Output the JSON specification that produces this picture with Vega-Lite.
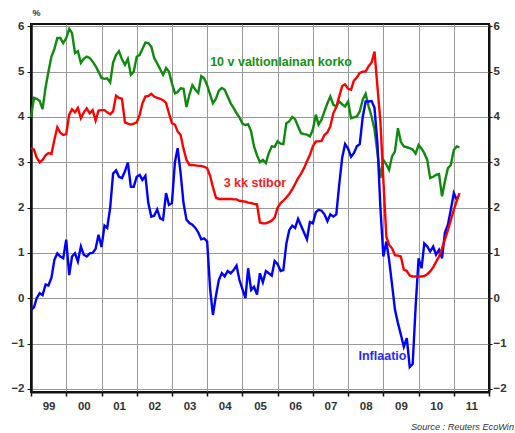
{
  "$schema": "https://vega.github.io/schema/vega-lite/v6.json",
  "width": 458,
  "height": 368,
  "autosize": "none",
  "padding": {"left": 31, "top": 24, "right": 26, "bottom": 41},
  "background": "white",
  "config": {
    "view": {"stroke": "#111111", "strokeWidth": 2},
    "font": "Liberation Sans"
  },
  "title": {
    "text": "Source : Reuters EcoWin",
    "orient": "bottom",
    "anchor": "end",
    "frame": "group",
    "font": "Liberation Sans",
    "fontSize": 9.2,
    "fontStyle": "italic",
    "fontWeight": "normal",
    "color": "#333333",
    "offset": 11,
    "dx": 25
  },
  "datasets": {
    "rates": [
      {"date": "1999-01-01", "korko": 4.00, "stibor": 3.31, "inflaatio": -0.26},
      {"date": "1999-02-01", "korko": 4.42, "stibor": 3.28, "inflaatio": -0.20},
      {"date": "1999-03-01", "korko": 4.40, "stibor": 3.10, "inflaatio": 0.00},
      {"date": "1999-04-01", "korko": 4.35, "stibor": 3.00, "inflaatio": 0.11},
      {"date": "1999-05-01", "korko": 4.17, "stibor": 3.05, "inflaatio": 0.07},
      {"date": "1999-06-01", "korko": 4.65, "stibor": 3.15, "inflaatio": 0.30},
      {"date": "1999-07-01", "korko": 5.00, "stibor": 3.20, "inflaatio": 0.28},
      {"date": "1999-08-01", "korko": 5.33, "stibor": 3.18, "inflaatio": 0.45},
      {"date": "1999-09-01", "korko": 5.50, "stibor": 3.50, "inflaatio": 0.85},
      {"date": "1999-10-01", "korko": 5.74, "stibor": 3.77, "inflaatio": 0.99},
      {"date": "1999-11-01", "korko": 5.74, "stibor": 3.65, "inflaatio": 0.92},
      {"date": "1999-12-01", "korko": 5.63, "stibor": 3.60, "inflaatio": 0.88},
      {"date": "2000-01-01", "korko": 5.74, "stibor": 3.62, "inflaatio": 1.29},
      {"date": "2000-02-01", "korko": 5.94, "stibor": 4.05, "inflaatio": 0.51},
      {"date": "2000-03-01", "korko": 5.85, "stibor": 4.17, "inflaatio": 0.92},
      {"date": "2000-04-01", "korko": 5.41, "stibor": 4.10, "inflaatio": 0.99},
      {"date": "2000-05-01", "korko": 5.45, "stibor": 4.20, "inflaatio": 0.81},
      {"date": "2000-06-01", "korko": 5.19, "stibor": 3.97, "inflaatio": 1.14},
      {"date": "2000-07-01", "korko": 5.28, "stibor": 4.10, "inflaatio": 0.96},
      {"date": "2000-08-01", "korko": 5.33, "stibor": 4.19, "inflaatio": 0.92},
      {"date": "2000-09-01", "korko": 5.30, "stibor": 4.08, "inflaatio": 0.99},
      {"date": "2000-10-01", "korko": 5.22, "stibor": 4.15, "inflaatio": 1.00},
      {"date": "2000-11-01", "korko": 5.12, "stibor": 3.92, "inflaatio": 1.09},
      {"date": "2000-12-01", "korko": 5.00, "stibor": 4.14, "inflaatio": 1.40},
      {"date": "2001-01-01", "korko": 4.86, "stibor": 4.15, "inflaatio": 1.13},
      {"date": "2001-02-01", "korko": 4.84, "stibor": 4.15, "inflaatio": 1.60},
      {"date": "2001-03-01", "korko": 4.85, "stibor": 4.10, "inflaatio": 1.55},
      {"date": "2001-04-01", "korko": 4.76, "stibor": 4.06, "inflaatio": 2.00},
      {"date": "2001-05-01", "korko": 5.20, "stibor": 4.12, "inflaatio": 2.75},
      {"date": "2001-06-01", "korko": 5.37, "stibor": 4.47, "inflaatio": 2.82},
      {"date": "2001-07-01", "korko": 5.45, "stibor": 4.42, "inflaatio": 2.68},
      {"date": "2001-08-01", "korko": 5.27, "stibor": 4.40, "inflaatio": 2.65},
      {"date": "2001-09-01", "korko": 5.15, "stibor": 3.88, "inflaatio": 2.80},
      {"date": "2001-10-01", "korko": 5.28, "stibor": 3.85, "inflaatio": 2.99},
      {"date": "2001-11-01", "korko": 4.93, "stibor": 3.83, "inflaatio": 2.46},
      {"date": "2001-12-01", "korko": 5.00, "stibor": 3.85, "inflaatio": 2.46},
      {"date": "2002-01-01", "korko": 5.33, "stibor": 3.88, "inflaatio": 2.68},
      {"date": "2002-02-01", "korko": 5.37, "stibor": 4.05, "inflaatio": 2.72},
      {"date": "2002-03-01", "korko": 5.50, "stibor": 4.30, "inflaatio": 2.61},
      {"date": "2002-04-01", "korko": 5.64, "stibor": 4.45, "inflaatio": 2.70},
      {"date": "2002-05-01", "korko": 5.63, "stibor": 4.46, "inflaatio": 2.10},
      {"date": "2002-06-01", "korko": 5.55, "stibor": 4.51, "inflaatio": 1.80},
      {"date": "2002-07-01", "korko": 5.30, "stibor": 4.45, "inflaatio": 1.82},
      {"date": "2002-08-01", "korko": 5.18, "stibor": 4.42, "inflaatio": 1.96},
      {"date": "2002-09-01", "korko": 5.05, "stibor": 4.40, "inflaatio": 1.76},
      {"date": "2002-10-01", "korko": 4.93, "stibor": 4.37, "inflaatio": 1.73},
      {"date": "2002-11-01", "korko": 5.08, "stibor": 4.31, "inflaatio": 2.32},
      {"date": "2002-12-01", "korko": 5.00, "stibor": 4.08, "inflaatio": 2.06},
      {"date": "2003-01-01", "korko": 4.74, "stibor": 3.86, "inflaatio": 2.10},
      {"date": "2003-02-01", "korko": 4.52, "stibor": 3.83, "inflaatio": 3.00},
      {"date": "2003-03-01", "korko": 4.55, "stibor": 3.68, "inflaatio": 3.31},
      {"date": "2003-04-01", "korko": 4.63, "stibor": 3.60, "inflaatio": 2.76},
      {"date": "2003-05-01", "korko": 4.62, "stibor": 3.30, "inflaatio": 2.10},
      {"date": "2003-06-01", "korko": 4.22, "stibor": 3.05, "inflaatio": 1.73},
      {"date": "2003-07-01", "korko": 4.49, "stibor": 2.94, "inflaatio": 1.66},
      {"date": "2003-08-01", "korko": 4.70, "stibor": 2.94, "inflaatio": 1.62},
      {"date": "2003-09-01", "korko": 4.60, "stibor": 2.93, "inflaatio": 1.55},
      {"date": "2003-10-01", "korko": 4.53, "stibor": 2.92, "inflaatio": 1.45},
      {"date": "2003-11-01", "korko": 4.90, "stibor": 2.92, "inflaatio": 1.30},
      {"date": "2003-12-01", "korko": 4.85, "stibor": 2.90, "inflaatio": 1.32},
      {"date": "2004-01-01", "korko": 4.70, "stibor": 2.87, "inflaatio": 1.25},
      {"date": "2004-02-01", "korko": 4.49, "stibor": 2.70, "inflaatio": 0.20},
      {"date": "2004-03-01", "korko": 4.30, "stibor": 2.45, "inflaatio": -0.37},
      {"date": "2004-04-01", "korko": 4.40, "stibor": 2.22, "inflaatio": 0.05},
      {"date": "2004-05-01", "korko": 4.58, "stibor": 2.19, "inflaatio": 0.40},
      {"date": "2004-06-01", "korko": 4.64, "stibor": 2.19, "inflaatio": 0.55},
      {"date": "2004-07-01", "korko": 4.60, "stibor": 2.19, "inflaatio": 0.48},
      {"date": "2004-08-01", "korko": 4.45, "stibor": 2.19, "inflaatio": 0.60},
      {"date": "2004-09-01", "korko": 4.30, "stibor": 2.19, "inflaatio": 0.55},
      {"date": "2004-10-01", "korko": 4.20, "stibor": 2.18, "inflaatio": 0.62},
      {"date": "2004-11-01", "korko": 4.08, "stibor": 2.18, "inflaatio": 0.72},
      {"date": "2004-12-01", "korko": 3.99, "stibor": 2.15, "inflaatio": 0.40},
      {"date": "2005-01-01", "korko": 3.85, "stibor": 2.14, "inflaatio": 0.20},
      {"date": "2005-02-01", "korko": 3.82, "stibor": 2.13, "inflaatio": 0.00},
      {"date": "2005-03-01", "korko": 3.84, "stibor": 2.11, "inflaatio": 0.66},
      {"date": "2005-04-01", "korko": 3.68, "stibor": 2.10, "inflaatio": 0.18},
      {"date": "2005-05-01", "korko": 3.35, "stibor": 2.08, "inflaatio": 0.25},
      {"date": "2005-06-01", "korko": 3.15, "stibor": 2.07, "inflaatio": 0.08},
      {"date": "2005-07-01", "korko": 3.00, "stibor": 1.67, "inflaatio": 0.55},
      {"date": "2005-08-01", "korko": 3.05, "stibor": 1.65, "inflaatio": 0.35},
      {"date": "2005-09-01", "korko": 2.98, "stibor": 1.65, "inflaatio": 0.60},
      {"date": "2005-10-01", "korko": 3.20, "stibor": 1.68, "inflaatio": 0.55},
      {"date": "2005-11-01", "korko": 3.35, "stibor": 1.71, "inflaatio": 0.50},
      {"date": "2005-12-01", "korko": 3.34, "stibor": 1.78, "inflaatio": 0.82},
      {"date": "2006-01-01", "korko": 3.46, "stibor": 2.00, "inflaatio": 0.75},
      {"date": "2006-02-01", "korko": 3.41, "stibor": 2.10, "inflaatio": 0.60},
      {"date": "2006-03-01", "korko": 3.40, "stibor": 2.15, "inflaatio": 0.62},
      {"date": "2006-04-01", "korko": 3.86, "stibor": 2.22, "inflaatio": 1.20},
      {"date": "2006-05-01", "korko": 3.90, "stibor": 2.30, "inflaatio": 1.50},
      {"date": "2006-06-01", "korko": 4.00, "stibor": 2.40, "inflaatio": 1.60},
      {"date": "2006-07-01", "korko": 3.95, "stibor": 2.52, "inflaatio": 1.55},
      {"date": "2006-08-01", "korko": 3.79, "stibor": 2.65, "inflaatio": 1.75},
      {"date": "2006-09-01", "korko": 3.64, "stibor": 2.75, "inflaatio": 1.60},
      {"date": "2006-10-01", "korko": 3.62, "stibor": 2.87, "inflaatio": 1.45},
      {"date": "2006-11-01", "korko": 3.61, "stibor": 3.02, "inflaatio": 1.30},
      {"date": "2006-12-01", "korko": 3.57, "stibor": 3.16, "inflaatio": 1.68},
      {"date": "2007-01-01", "korko": 3.72, "stibor": 3.35, "inflaatio": 1.65},
      {"date": "2007-02-01", "korko": 4.05, "stibor": 3.46, "inflaatio": 1.90},
      {"date": "2007-03-01", "korko": 3.83, "stibor": 3.46, "inflaatio": 1.95},
      {"date": "2007-04-01", "korko": 3.94, "stibor": 3.47, "inflaatio": 1.93},
      {"date": "2007-05-01", "korko": 4.12, "stibor": 3.60, "inflaatio": 1.85},
      {"date": "2007-06-01", "korko": 4.30, "stibor": 3.66, "inflaatio": 1.70},
      {"date": "2007-07-01", "korko": 4.45, "stibor": 3.79, "inflaatio": 1.85},
      {"date": "2007-08-01", "korko": 4.27, "stibor": 4.08, "inflaatio": 1.80},
      {"date": "2007-09-01", "korko": 4.23, "stibor": 4.22, "inflaatio": 1.85},
      {"date": "2007-10-01", "korko": 4.34, "stibor": 4.45, "inflaatio": 2.50},
      {"date": "2007-11-01", "korko": 4.28, "stibor": 4.68, "inflaatio": 3.10},
      {"date": "2007-12-01", "korko": 4.23, "stibor": 4.72, "inflaatio": 3.40},
      {"date": "2008-01-01", "korko": 4.34, "stibor": 4.62, "inflaatio": 3.30},
      {"date": "2008-02-01", "korko": 3.97, "stibor": 4.60, "inflaatio": 3.12},
      {"date": "2008-03-01", "korko": 3.99, "stibor": 4.80, "inflaatio": 3.20},
      {"date": "2008-04-01", "korko": 4.01, "stibor": 4.87, "inflaatio": 3.35},
      {"date": "2008-05-01", "korko": 4.12, "stibor": 4.97, "inflaatio": 3.40},
      {"date": "2008-06-01", "korko": 4.38, "stibor": 5.00, "inflaatio": 4.00},
      {"date": "2008-07-01", "korko": 4.51, "stibor": 5.00, "inflaatio": 4.34},
      {"date": "2008-08-01", "korko": 4.23, "stibor": 5.12, "inflaatio": 4.34},
      {"date": "2008-09-01", "korko": 4.01, "stibor": 5.20, "inflaatio": 4.35},
      {"date": "2008-10-01", "korko": 3.72, "stibor": 5.44, "inflaatio": 4.20},
      {"date": "2008-11-01", "korko": 3.20, "stibor": 4.65, "inflaatio": 3.40},
      {"date": "2008-12-01", "korko": 2.65, "stibor": 3.90, "inflaatio": 2.00},
      {"date": "2009-01-01", "korko": 3.05, "stibor": 2.60, "inflaatio": 0.92},
      {"date": "2009-02-01", "korko": 2.95, "stibor": 1.35, "inflaatio": 1.25},
      {"date": "2009-03-01", "korko": 2.83, "stibor": 1.18, "inflaatio": 0.85},
      {"date": "2009-04-01", "korko": 3.13, "stibor": 1.10, "inflaatio": 0.30},
      {"date": "2009-05-01", "korko": 3.24, "stibor": 0.95, "inflaatio": -0.25},
      {"date": "2009-06-01", "korko": 3.75, "stibor": 0.94, "inflaatio": -0.55},
      {"date": "2009-07-01", "korko": 3.45, "stibor": 0.92, "inflaatio": -0.80},
      {"date": "2009-08-01", "korko": 3.35, "stibor": 0.63, "inflaatio": -1.07},
      {"date": "2009-09-01", "korko": 3.33, "stibor": 0.60, "inflaatio": -0.88},
      {"date": "2009-10-01", "korko": 3.31, "stibor": 0.50, "inflaatio": -1.52},
      {"date": "2009-11-01", "korko": 3.28, "stibor": 0.48, "inflaatio": -1.45},
      {"date": "2009-12-01", "korko": 3.19, "stibor": 0.48, "inflaatio": -0.20},
      {"date": "2010-01-01", "korko": 3.38, "stibor": 0.48, "inflaatio": 0.88},
      {"date": "2010-02-01", "korko": 3.30, "stibor": 0.48, "inflaatio": 0.66},
      {"date": "2010-03-01", "korko": 3.20, "stibor": 0.49, "inflaatio": 1.21},
      {"date": "2010-04-01", "korko": 3.05, "stibor": 0.53, "inflaatio": 1.14},
      {"date": "2010-05-01", "korko": 2.65, "stibor": 0.59, "inflaatio": 1.03},
      {"date": "2010-06-01", "korko": 2.68, "stibor": 0.68, "inflaatio": 1.14},
      {"date": "2010-07-01", "korko": 2.72, "stibor": 0.80, "inflaatio": 0.96},
      {"date": "2010-08-01", "korko": 2.74, "stibor": 0.92, "inflaatio": 1.07},
      {"date": "2010-09-01", "korko": 2.25, "stibor": 1.10, "inflaatio": 0.88},
      {"date": "2010-10-01", "korko": 2.58, "stibor": 1.30, "inflaatio": 1.45},
      {"date": "2010-11-01", "korko": 2.87, "stibor": 1.50, "inflaatio": 1.62},
      {"date": "2010-12-01", "korko": 2.94, "stibor": 1.72, "inflaatio": 1.95},
      {"date": "2011-01-01", "korko": 3.27, "stibor": 1.95, "inflaatio": 2.32},
      {"date": "2011-02-01", "korko": 3.35, "stibor": 2.15, "inflaatio": 2.17},
      {"date": "2011-03-01", "korko": 3.33, "stibor": 2.32, "inflaatio": null}
    ],
    "notes": [
      {"date": "2004-02-01", "value": 5.22, "label": "10 v valtionlainan korko"},
      {"date": "2004-06-20", "value": 2.54, "label": "3 kk stibor"},
      {"date": "2008-04-18", "value": -1.27, "label": "Inflaatio"}
    ]
  },
  "resolve": {"axis": {"x": "independent", "y": "independent"}},
  "layer": [
    {
      "data": {"name": "rates"},
      "mark": {"type": "line", "color": "#0f8a0f", "strokeWidth": 2.4},
      "encoding": {
        "x": {
          "field": "date", "type": "temporal",
          "scale": {"type": "utc", "domain": [{"year": 1999, "month": 1, "date": 1, "utc": true}, {"year": 2012, "month": 1, "date": 1, "utc": true}]},
          "axis": {
            "orient": "top",
            "title": null,
            "tickCount": {"interval": "year", "step": 1},
            "labels": false,
            "domain": false,
            "grid": false,
            "ticks": true,
            "tickSize": -368,
            "tickColor": "#9a9a9a",
            "tickWidth": 1,
            "zindex": 0
          }
        },
        "y": {
          "field": "korko", "type": "quantitative",
          "scale": {"domain": [-2.07, 6.05], "nice": false, "zero": false},
          "axis": {
            "orient": "left",
            "values": [-2, -1, 0, 1, 2, 3, 4, 5, 6],
            "grid": true,
            "gridColor": "#9a9a9a",
            "gridWidth": 1,
            "domainColor": "#111111",
            "domainWidth": 2.5,
            "tickColor": "#111111",
            "tickSize": 4,
            "labelPadding": 3,
            "labelFont": "Liberation Sans",
            "labelFontSize": 11.5,
            "labelFontWeight": "bold",
            "labelColor": "#333333",
            "title": "%",
            "titleAngle": 0,
            "titleX": 1,
            "titleY": -12,
            "titleAlign": "left",
            "titleBaseline": "middle",
            "titleFont": "Liberation Sans",
            "titleFontSize": 9,
            "titleFontWeight": "bold",
            "titleColor": "#333333"
          }
        }
      }
    },
    {
      "data": {"name": "rates"},
      "mark": {"type": "line", "color": "#0000ff", "strokeWidth": 2.4},
      "encoding": {
        "x": {
          "field": "date", "type": "temporal",
          "scale": {"type": "utc", "domain": [{"year": 1999, "month": 1, "date": 1, "utc": true}, {"year": 2012, "month": 1, "date": 1, "utc": true}]},
          "axis": {
            "orient": "bottom",
            "title": null,
            "tickCount": {"interval": "year", "step": 1},
            "labelExpr": "utcyear(datum.value) >= 2012 ? '' : utcFormat(datum.value, '%y')",
            "labelOffset": 17.6,
            "labelFlush": false,
            "labelOverlap": false,
            "grid": false,
            "domainColor": "#111111",
            "domainWidth": 2,
            "tickColor": "#111111",
            "tickWidth": 1.5,
            "tickSize": 4,
            "labelPadding": 4,
            "labelFont": "Liberation Sans",
            "labelFontSize": 11.5,
            "labelFontWeight": "bold",
            "labelColor": "#333333"
          }
        },
        "y": {"field": "inflaatio", "type": "quantitative", "scale": {"domain": [-2.07, 6.05], "nice": false, "zero": false}, "axis": null}
      }
    },
    {
      "data": {"name": "rates"},
      "mark": {"type": "line", "color": "#ff0000", "strokeWidth": 2.4},
      "encoding": {
        "x": {"field": "date", "type": "temporal", "scale": {"type": "utc", "domain": [{"year": 1999, "month": 1, "date": 1, "utc": true}, {"year": 2012, "month": 1, "date": 1, "utc": true}]}, "axis": null},
        "y": {
          "field": "stibor", "type": "quantitative",
          "scale": {"domain": [-2.07, 6.05], "nice": false, "zero": false},
          "axis": {
            "orient": "right",
            "values": [-2, -1, 0, 1, 2, 3, 4, 5, 6],
            "grid": false,
            "title": null,
            "domainColor": "#111111",
            "domainWidth": 2,
            "tickColor": "#111111",
            "tickSize": 3,
            "labelPadding": 1,
            "labelFont": "Liberation Sans",
            "labelFontSize": 11.5,
            "labelFontWeight": "bold",
            "labelColor": "#333333"
          }
        }
      }
    },
    {
      "mark": {"type": "rule", "color": "#111111", "strokeWidth": 2},
      "encoding": {
        "y": {"datum": 0, "type": "quantitative", "scale": {"domain": [-2.07, 6.05], "nice": false, "zero": false}, "axis": null}
      }
    },
    {
      "data": {"name": "notes"},
      "mark": {"type": "text", "align": "left", "baseline": "middle", "font": "Liberation Sans", "fontSize": 12.5, "fontWeight": "bold"},
      "encoding": {
        "x": {"field": "date", "type": "temporal", "scale": {"type": "utc", "domain": [{"year": 1999, "month": 1, "date": 1, "utc": true}, {"year": 2012, "month": 1, "date": 1, "utc": true}]}, "axis": null},
        "y": {"field": "value", "type": "quantitative", "scale": {"domain": [-2.07, 6.05], "nice": false, "zero": false}, "axis": null},
        "text": {"field": "label"},
        "color": {
          "field": "label", "type": "nominal",
          "scale": {"domain": ["10 v valtionlainan korko", "3 kk stibor", "Inflaatio"], "range": ["#119211", "#f41c1c", "#2a2aff"]},
          "legend": null
        }
      }
    }
  ]
}
